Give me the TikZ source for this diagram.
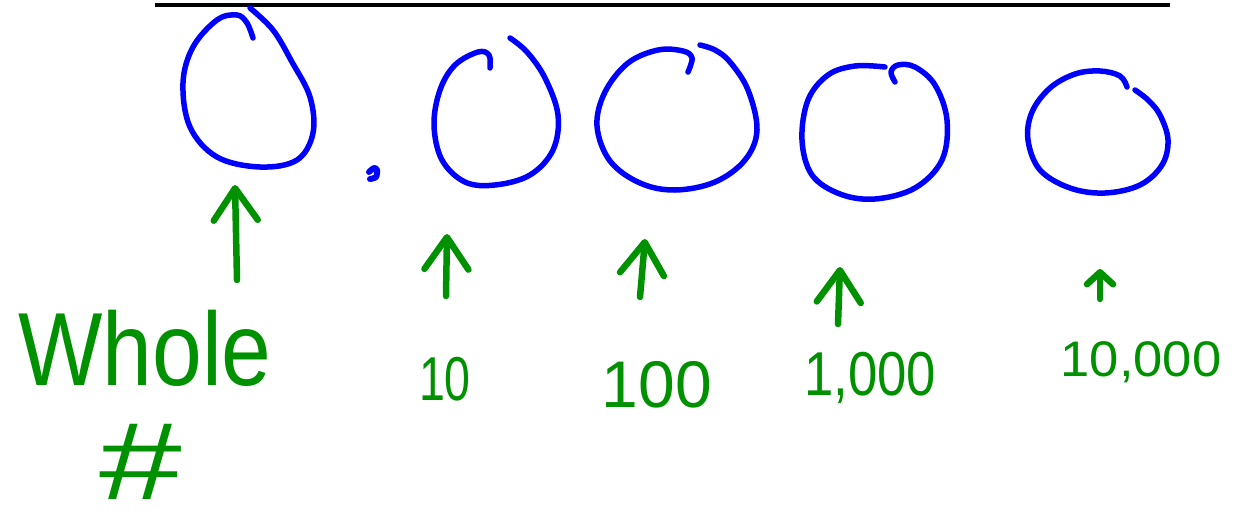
\documentclass[tikz,border=0pt]{standalone}
\usepackage{fontspec}
\setmainfont{Liberation Sans}
\usetikzlibrary{arrows.meta}
\definecolor{inkblue}{RGB}{0,0,255}
\definecolor{inkgreen}{RGB}{0,145,0}
\tikzset{
  ring/.style={draw=inkblue,line width=5.5pt,line cap=round,line join=round},
  ptr/.style={draw=inkgreen,line width=6.5pt,line cap=round,line join=round,
    -{Straight Barb[length=32pt,width=44pt,line width=6.5pt,round]}},
  small ptr/.style={draw=inkgreen,line width=6.5pt,line cap=round,
    -{Straight Barb[length=12pt,width=26pt,line width=6.5pt,round]}},
  ink/.style={text=inkgreen,inner sep=0pt}
}
\begin{document}
\begin{tikzpicture}[x=1pt,y=-1pt]
\useasboundingbox (0,0) rectangle (1234,525);
% top line
\coordinate (tl) at (155,5);
\coordinate (tr) at (1170,5);
\draw[line width=4pt] (tl) -- (tr);
% place circles
\draw[ring] plot[smooth,tension=0.6] coordinates {(250,8) (273,30) (292,62) (310,97) (313,133) (297,160) (260,167) (217,157) (190,127) (183,83) (193,47) (217,20) (237,15) (247,23) (253,38)};
\draw[ring] plot[smooth,tension=0.6] coordinates {(490,68) (489,55) (478,52) (455,65) (440,90) (434,125) (442,160) (465,182) (495,185) (530,175) (553,150) (558,115) (545,78) (527,52) (510,38)};
\draw[ring] plot[smooth,tension=0.6] coordinates {(688,72) (692,58) (683,51) (658,50) (628,63) (605,92) (597,126) (610,161) (640,183) (675,190) (715,182) (745,160) (757,130) (748,90) (730,62) (715,50) (700,45)};
\draw[ring] plot[smooth,tension=0.6] coordinates {(895,82) (891,72) (898,65) (915,67) (935,85) (947,120) (942,160) (915,188) (875,199) (840,194) (812,175) (802,140) (808,100) (828,75) (855,66) (885,67)};
\draw[ring] plot[smooth,tension=0.6] coordinates {(1127,87) (1120,76) (1100,71) (1075,74) (1050,88) (1032,112) (1028,140) (1040,170) (1070,188) (1105,193) (1140,185) (1162,165) (1168,140) (1160,115) (1148,100) (1135,90)};
% decimal point
\draw[ring,line width=6pt] plot[smooth] coordinates {(369,172) (374,168) (377,170) (376,177) (370,179)};
% labels
\node[ink,anchor=base,font=\fontsize{104}{110}\selectfont,xscale=0.86] (whole) at (145,385) {Whole};
\node[ink,font=\fontsize{110}{112}\selectfont,xscale=1.35] (hash) at (141,462) {\#};
\node[ink,anchor=base,font=\fontsize{62}{64}\selectfont,xscale=0.75] (n10) at (445,400) {10};
\node[ink,anchor=base,font=\fontsize{66}{68}\selectfont] (n100) at (657,407) {100};
\node[ink,anchor=base,font=\fontsize{62}{64}\selectfont,xscale=0.85] (n1000) at (870,395) {1,000};
\node[ink,anchor=base,font=\fontsize{50}{52}\selectfont,xscale=1.05] (n10000) at (1141,376) {10,000};
% arrows
\coordinate (a1s) at (237,280); \coordinate (a1e) at (235,185);
\coordinate (a2s) at (446,296); \coordinate (a2e) at (447,234);
\coordinate (a3s) at (640,297); \coordinate (a3e) at (645,239);
\coordinate (a4s) at (838,324); \coordinate (a4e) at (840,267);
\coordinate (a5s) at (1100,299); \coordinate (a5e) at (1100,269);
\draw[ptr] (a1s) -- (a1e);
\draw[ptr] (a2s) -- (a2e);
\draw[ptr] (a3s) -- (a3e);
\draw[ptr] (a4s) -- (a4e);
\draw[small ptr] (a5s) -- (a5e);
\end{tikzpicture}
\end{document}
